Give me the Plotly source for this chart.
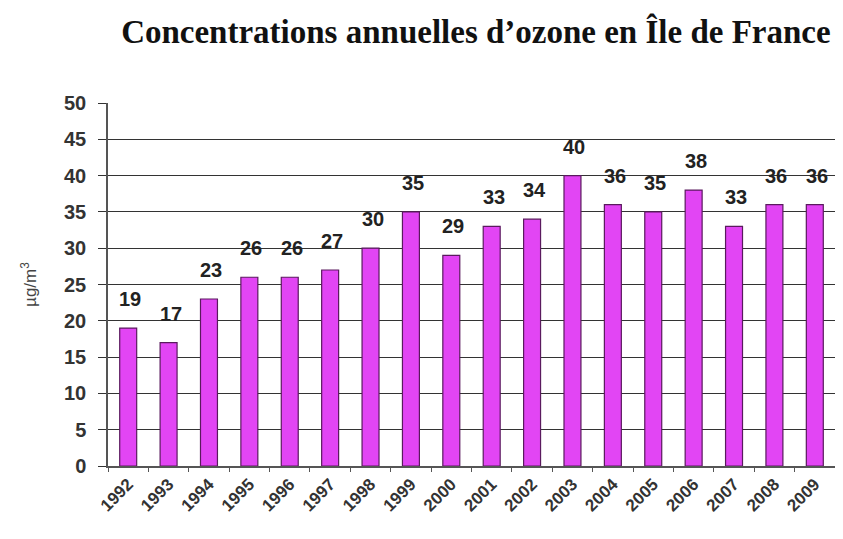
import plotly.graph_objects as go

years = ["1992", "1993", "1994", "1995", "1996", "1997", "1998", "1999", "2000",
         "2001", "2002", "2003", "2004", "2005", "2006", "2007", "2008", "2009"]
ozone = [19, 17, 23, 26, 26, 27, 30, 35, 29, 33, 34, 40, 36, 35, 38, 33, 36, 36]
y_ticks = [0, 5, 10, 15, 20, 25, 30, 35, 40, 45, 50]

fig = go.Figure()
fig.add_trace(go.Bar(
    x=years, y=ozone,
    marker=dict(color="#E245F4", line=dict(color="#5A1A5E", width=1.2)),
    cliponaxis=False,
))

# value labels above bars (category index positions on the category axis)
for i, v in enumerate(ozone):
    fig.add_annotation(
        x=i, y=v, text=str(v), showarrow=False,
        xanchor="center", yanchor="middle", yshift=29, xshift=2,
        font=dict(family="Liberation Sans, Arial", size=20, color="#222222", weight="bold"),
    )

fig.update_layout(
    width=843, height=539,
    margin=dict(l=100, r=16, t=95, b=81, autoexpand=False),
    paper_bgcolor="white", plot_bgcolor="white",
    bargap=0.58,
    showlegend=False,
    title=dict(
        text="<b>Concentrations annuelles d\u2019ozone en Île de France</b>",
        x=0.555, xanchor="center", y=0.957, yanchor="middle",
        font=dict(family="Liberation Serif, Times New Roman", size=33, color="#111111"),
    ),
    xaxis=dict(
        type="category", tickangle=-45, automargin=False,
        range=[-0.5, len(years) - 0.5],
        tickson="boundaries", ticks="outside", ticklen=4, tickcolor="#555555",
        showline=True, linecolor="#555555", linewidth=1.5,
        tickfont=dict(family="Liberation Sans, Arial", size=17, color="#333333", weight="bold"),
        showgrid=False,
    ),
    yaxis=dict(
        range=[0, 50], tickvals=y_ticks, automargin=False,
        ticks="outside", ticklen=8, tickcolor="#333333", ticklabelstandoff=8,
        showline=True, linecolor="#555555", linewidth=1.5,
        showgrid=True, gridcolor="#333333", gridwidth=1.3,
        zeroline=False,
        tickfont=dict(family="Liberation Sans, Arial", size=20, color="#333333", weight="bold"),
        title=dict(text="µg/m<sup>3</sup>", standoff=23,
                   font=dict(family="Liberation Sans, Arial", size=17, color="#444444")),
    ),
)

fig.write_html("out.html")
